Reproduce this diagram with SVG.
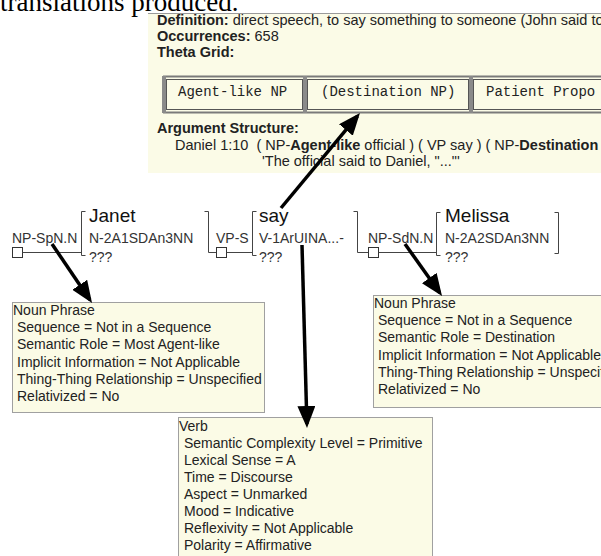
<svg xmlns="http://www.w3.org/2000/svg" width="601" height="556" viewBox="0 0 601 556">
<style>
text{font-family:"Liberation Sans",Arial,sans-serif;fill:#222}
.cap{font-family:"Liberation Serif","Times New Roman",serif;font-size:27px;fill:#000}
.p{font-size:14.5px}
.b{font-weight:bold}
.mono{font-family:"Liberation Mono","Courier New",monospace;font-size:14px;fill:#222}
.t{font-size:14px;fill:#333}
.w{font-size:19px;fill:#111}
.box{fill:#fbfbe6;stroke:#a0a0a0;stroke-width:1}
.bx{font-size:14px;fill:#222}
.ln{stroke:#444;stroke-width:1;fill:none}
.sq{fill:#fff;stroke:#333;stroke-width:1}
.arr{stroke:#000;stroke-width:3.5;fill:none;marker-end:url(#ah)}
</style>
<defs>
<marker id="ah" viewBox="0 0 22 18" refX="18" refY="9" markerWidth="22" markerHeight="18" orient="auto" markerUnits="userSpaceOnUse">
<path d="M0,0 L22,9 L0,18 Z" fill="#000"/>
</marker>
</defs>
<rect width="601" height="556" fill="#fff"/>
<g id="caption"><text class="cap" x="0" y="11">translations produced.</text></g>
<g id="info-panel">
<rect x="148" y="13" width="453" height="160" fill="#fbfbe7"/>
<line x1="148" y1="13.5" x2="601" y2="13.5" stroke="#9a9a9a"/>
<text class="p" x="157" y="25"><tspan class="b">Definition:</tspan> direct speech, to say something to someone (John said to</text>
<text class="p" x="157" y="41"><tspan class="b">Occurrences:</tspan> 658</text>
<text class="p b" x="157" y="57">Theta Grid:</text>
<g id="theta-grid">
<rect x="164" y="76.5" width="450" height="36" fill="none" stroke="#7a7a7a" stroke-width="2"/>
<rect x="166.5" y="79.5" width="136" height="30" fill="none" stroke="#555"/>
<rect x="307.5" y="79.5" width="161" height="30" fill="none" stroke="#555"/>
<rect x="473.5" y="79.5" width="140" height="30" fill="none" stroke="#555"/>
<rect x="303" y="76" width="4" height="37" fill="#8a8a8a"/>
<rect x="469" y="76" width="4" height="37" fill="#8a8a8a"/>
<rect x="162" y="76" width="4" height="37" fill="#8a8a8a"/>
<text class="mono" x="178" y="96">Agent-like NP</text>
<text class="mono" x="321" y="96">(Destination NP)</text>
<text class="mono" x="486" y="96">Patient Propo</text>
</g>
<text class="p b" x="157" y="133">Argument Structure:</text>
<text class="p" x="175" y="150" xml:space="preserve">Daniel 1:10  ( NP-<tspan class="b">Agent-like</tspan> official ) ( VP say ) ( NP-<tspan class="b">Destination</tspan></text>
<text class="p" x="262" y="166">'The official said to Daniel, "..."'</text>
</g>
<g id="node-janet">
<text class="t" x="12" y="243">NP-SpN.N</text>
<rect class="sq" x="12.5" y="247.5" width="10" height="10"/>
<path class="ln" d="M22.5,252.5 H81.5 M85.5,211.5 H81.5 V255.5 H85.5"/>
<text class="w" x="89" y="222">Janet</text>
<text class="t" x="89" y="243">N-2A1SDAn3NN</text>
<text class="t" x="89" y="262">???</text>
<path class="ln" d="M204.5,211.5 H208.5 V252.5 H216.5"/>
</g>
<g id="node-say">
<text class="t" x="216" y="243">VP-S</text>
<rect class="sq" x="216.5" y="247.5" width="10" height="10"/>
<path class="ln" d="M226.5,252.5 H252.5 M256.5,211.5 H252.5 V255.5 H256.5"/>
<text class="w" x="259" y="222">say</text>
<text class="t" x="259" y="243">V-1ArUINA...-</text>
<text class="t" x="259" y="262">???</text>
<path class="ln" d="M353.5,211.5 H357.5 V252.5 H368.5"/>
</g>
<g id="node-melissa">
<text class="t" x="368" y="243">NP-SdN.N</text>
<rect class="sq" x="368.5" y="247.5" width="10" height="10"/>
<path class="ln" d="M378.5,252.5 H436.5 M440.5,212.5 H436.5 V255.5 H440.5"/>
<text class="w" x="445" y="222">Melissa</text>
<text class="t" x="445" y="243">N-2A2SDAn3NN</text>
<text class="t" x="445" y="262">???</text>
<path class="ln" d="M554.5,212.5 H558.5 V253.5 H554.5"/>
</g>
<g id="box-janet">
<rect class="box" x="12.5" y="302.5" width="252" height="110"/>
<text class="bx" x="13" y="315">Noun Phrase</text>
<text class="bx" x="17" y="332">Sequence = Not in a Sequence</text>
<text class="bx" x="17" y="349">Semantic Role = Most Agent-like</text>
<text class="bx" x="17" y="367">Implicit Information = Not Applicable</text>
<text class="bx" x="17" y="384">Thing-Thing Relationship = Unspecified</text>
<text class="bx" x="17" y="401">Relativized = No</text>
</g>
<g id="box-melissa">
<rect class="box" x="373.5" y="295.5" width="240" height="112"/>
<text class="bx" x="374" y="308">Noun Phrase</text>
<text class="bx" x="378" y="325">Sequence = Not in a Sequence</text>
<text class="bx" x="378" y="342">Semantic Role = Destination</text>
<text class="bx" x="378" y="360">Implicit Information = Not Applicable</text>
<text class="bx" x="378" y="377">Thing-Thing Relationship = Unspecified</text>
<text class="bx" x="378" y="394">Relativized = No</text>
</g>
<g id="box-verb">
<rect class="box" x="178.5" y="417.5" width="254" height="150"/>
<text class="bx" x="179" y="431">Verb</text>
<text class="bx" x="184" y="448">Semantic Complexity Level = Primitive</text>
<text class="bx" x="184" y="465">Lexical Sense = A</text>
<text class="bx" x="184" y="482">Time = Discourse</text>
<text class="bx" x="184" y="499">Aspect = Unmarked</text>
<text class="bx" x="184" y="516">Mood = Indicative</text>
<text class="bx" x="184" y="533">Reflexivity = Not Applicable</text>
<text class="bx" x="184" y="550">Polarity = Affirmative</text>
</g>
<g id="connectors">
<line class="arr" x1="281" y1="208" x2="357.4" y2="116.1"/>
<line class="arr" x1="52" y1="244" x2="89.8" y2="299.7"/>
<line class="arr" x1="405" y1="244" x2="439.7" y2="292.7"/>
<line class="arr" x1="302" y1="245" x2="306.9" y2="424"/>
</g>
</svg>
